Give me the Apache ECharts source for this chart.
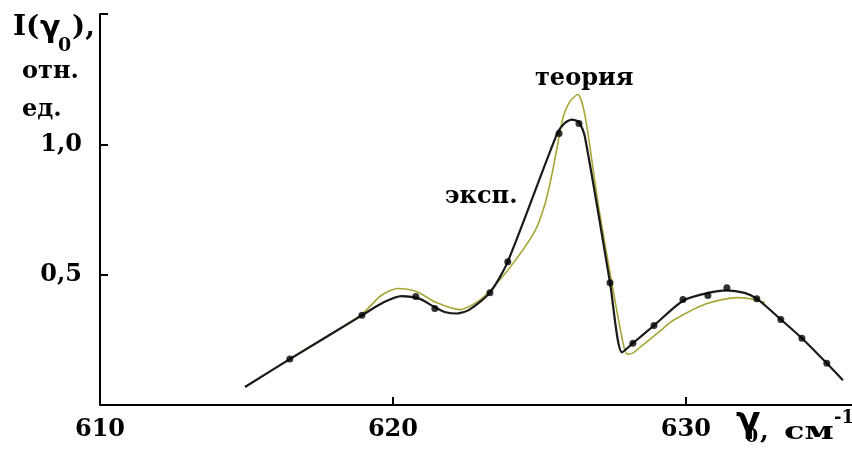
<!DOCTYPE html>
<html>
<head>
<meta charset="utf-8">
<script src="https://cdn.jsdelivr.net/npm/echarts@6/dist/echarts.min.js"></script>
<style>
  html, body { margin: 0; padding: 0; background: #fff; }
  #chart { width: 852px; height: 450px; }
</style>
</head>
<body>
<div id="chart"></div>
<script>
// Wavenumber (cm^-1) and relative intensity of the measured curve
const expX = [614.95, 616.48, 618.94, 619.7, 620.3, 620.9, 621.43, 621.8, 622.18, 622.6, 623.31, 623.92, 625.6, 625.85, 626.1, 626.35, 626.55, 627.41, 627.82, 628.19, 628.91, 629.9, 630.75, 631.4, 632.0, 632.42, 633.24, 633.96, 634.81, 635.36];
const expY = [0.069, 0.176, 0.344, 0.395, 0.418, 0.408, 0.375, 0.356, 0.351, 0.365, 0.431, 0.55, 1.04, 1.08, 1.095, 1.085, 1.03, 0.469, 0.202, 0.237, 0.305, 0.40, 0.43, 0.44, 0.43, 0.408, 0.328, 0.256, 0.16, 0.095];

// Measured points
const dotX = [616.48, 618.94, 620.78, 621.43, 623.31, 623.92, 625.67, 626.35, 627.41, 628.19, 628.91, 629.9, 630.75, 631.4, 632.42, 633.24, 633.96, 634.81];
const dotY = [0.176, 0.344, 0.416, 0.37, 0.431, 0.55, 1.042, 1.08, 0.469, 0.237, 0.305, 0.405, 0.42, 0.45, 0.408, 0.328, 0.256, 0.16];

// Calculated curve
const theoX = [614.95, 615.4, 616.5, 618.9, 619.6, 620.17, 620.8, 621.5, 622.29, 622.8, 623.21, 623.99, 624.85, 625.19, 625.4, 625.6, 625.8, 626.04, 626.31, 626.55, 626.89, 627.06, 627.47, 627.85, 627.99, 628.2, 628.43, 629.11, 629.56, 630.72, 631.74, 632.18, 632.7];
const theoY = [0.07, 0.1, 0.178, 0.345, 0.42, 0.447, 0.435, 0.392, 0.366, 0.39, 0.427, 0.527, 0.668, 0.771, 0.87, 0.985, 1.10, 1.164, 1.191, 1.114, 0.859, 0.733, 0.469, 0.24, 0.195, 0.2, 0.221, 0.283, 0.324, 0.389, 0.412, 0.408, 0.393];

// Axis ticks and their labels
const xTicks = [610, 620, 630];
const xTickLabels = ['610', '620', '630'];
const yTicks = [0.5, 1.0];
const yTickLabels = ['0,5', '1,0'];

const pairs = (xs, ys) => xs.map((x, i) => [x, ys[i]]);

const serif = 'DejaVu Serif';
const ink = '#000';

const chart = echarts.init(document.getElementById('chart'), null, { renderer: 'canvas' });

chart.setOption({
  animation: false,
  backgroundColor: '#fff',
  grid: { left: 100, right: 0, top: 14, bottom: 45, containLabel: false },
  xAxis: {
    type: 'value',
    min: 610,
    max: 635.67,
    interval: 10,
    axisLine: { show: true, lineStyle: { color: ink, width: 2 } },
    axisTick: { show: true, inside: true, length: 8, lineStyle: { color: ink, width: 2 } },
    splitLine: { show: false },
    axisLabel: {
      margin: 13,
      showMaxLabel: false,
      color: ink,
      fontFamily: serif,
      fontWeight: 'bold',
      fontSize: 24,
      formatter: v => {
        const i = xTicks.indexOf(Math.round(v));
        return i >= 0 ? xTickLabels[i] : '';
      }
    }
  },
  yAxis: {
    type: 'value',
    min: 0,
    max: 1.5,
    interval: 0.5,
    axisLine: { show: true, lineStyle: { color: ink, width: 2 } },
    axisTick: { show: true, inside: true, length: 8, lineStyle: { color: ink, width: 2 } },
    splitLine: { show: false },
    axisLabel: {
      margin: 18,
      color: ink,
      fontFamily: serif,
      fontWeight: 'bold',
      fontSize: 24,
      padding: [6, 0, 0, 0],
      formatter: v => {
        const i = yTicks.findIndex(t => Math.abs(t - v) < 1e-6);
        return i >= 0 ? yTickLabels[i] : '';
      }
    }
  },
  series: [
    {
      name: 'теория',
      type: 'line',
      data: pairs(theoX, theoY),
      smooth: 0.25,
      showSymbol: false,
      lineStyle: { color: '#a6a636', width: 1.6 },
      z: 2
    },
    {
      name: 'эксп.',
      type: 'line',
      data: pairs(expX, expY),
      smooth: 0.25,
      showSymbol: false,
      lineStyle: { color: '#1a1a1a', width: 2.2 },
      z: 3
    },
    {
      name: 'эксп. точки',
      type: 'scatter',
      data: pairs(dotX, dotY),
      symbol: 'circle',
      symbolSize: 7,
      itemStyle: { color: '#000' },
      z: 4
    }
  ],
  graphic: [
    // y-axis title: I(γ0), отн. ед.
    { type: 'text', left: 13, top: 14, style: { text: 'I(', font: 'bold 28px "DejaVu Serif"', fill: ink } },
    { type: 'text', left: 40, top: 14, style: { text: 'γ', font: 'bold 30px "DejaVu Sans"', fill: ink } },
    { type: 'text', left: 58, top: 37, style: { text: '0', font: 'bold 19px "DejaVu Serif"', fill: ink } },
    { type: 'text', left: 72, top: 14, style: { text: '),', font: 'bold 28px "DejaVu Serif"', fill: ink } },
    { type: 'text', left: 22, top: 60, style: { text: 'отн.', font: 'bold 24px "DejaVu Serif"', fill: ink } },
    { type: 'text', left: 22, top: 98, style: { text: 'ед.', font: 'bold 24px "DejaVu Serif"', fill: ink } },
    // curve annotations
    { type: 'text', left: 535, top: 67, style: { text: 'теория', font: 'bold 24px "DejaVu Serif"', fill: ink } },
    { type: 'text', left: 445, top: 185, style: { text: 'эксп.', font: 'bold 24px "DejaVu Serif"', fill: ink } },
    // x-axis title: γ0, см-1
    { type: 'text', x: 736, y: 405, style: { text: 'γ', font: 'bold 36px "DejaVu Sans"', fill: ink } },
    { type: 'text', x: 745, y: 428, style: { text: '0', font: 'bold 19px "DejaVu Serif"', fill: ink } },
    { type: 'text', x: 760, y: 420, style: { text: ',', font: 'bold 25px "DejaVu Serif"', fill: ink } },
    { type: 'text', x: 784, y: 420, scaleX: 1.35, style: { text: 'см', font: 'bold 25px "DejaVu Serif"', fill: ink } },
    { type: 'text', x: 834, y: 409, style: { text: '-1', font: 'bold 18px "DejaVu Serif"', fill: ink } }
  ]
});
</script>
</body>
</html>
